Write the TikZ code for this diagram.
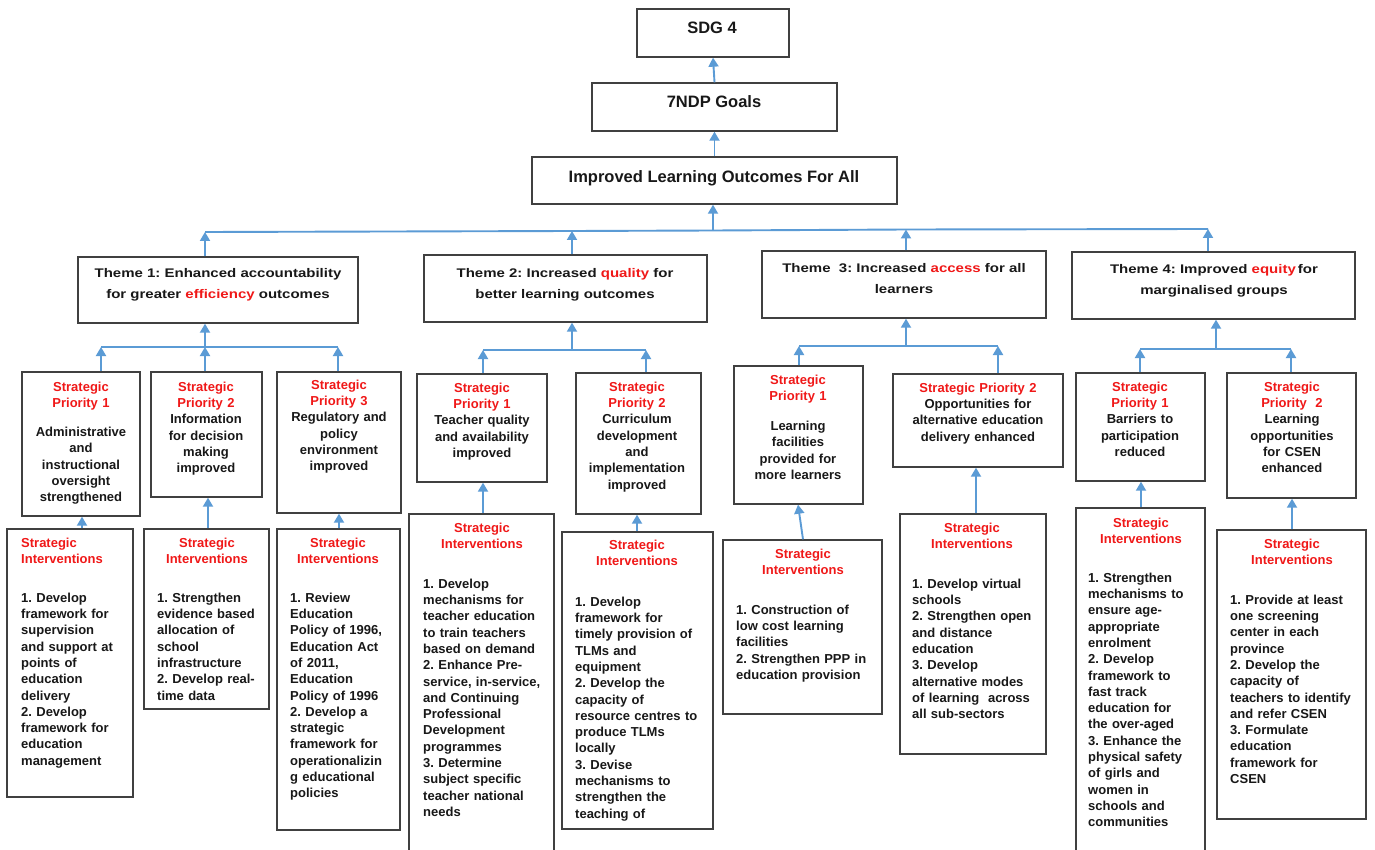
\documentclass[tikz,border=0pt]{standalone}
\usepackage{fontspec}
\setmainfont{Liberation Sans}
\newfontfamily\widesans{Liberation Sans}[FakeStretch=1.2]
\usetikzlibrary{arrows.meta,fit}
\frenchspacing

\definecolor{linkblue}{RGB}{91,155,213}
\definecolor{boxgray}{RGB}{64,64,64}
\definecolor{ink}{RGB}{24,24,24}
\definecolor{srred}{RGB}{240,24,24}

\newcommand\bodyfont{\fontsize{13}{16.3}\selectfont\bfseries}
\newcommand\themefont{\widesans\fontsize{12.5}{21}\selectfont\bfseries}
\newcommand\topfont{\fontsize{16.5}{20}\selectfont\bfseries}
\newcommand\hl[1]{\textcolor{srred}{#1}}

\tikzset{
  box/.style={draw=boxgray, line width=1.4pt, inner sep=0pt},
  link/.style={draw=linkblue, line width=1.9pt},
  conn/.style={link, -{Triangle[width=10pt,length=9pt]}},
  toptext/.style={font=\topfont, text=ink, inner sep=0pt, anchor=base},
  themetext/.style={font=\themefont, text=ink, inner sep=0pt, anchor=north,
    align=center, text width=300pt, yshift=14.7pt, execute at begin node=\strut},
  ctext/.style={font=\bodyfont, text=ink, inner sep=0pt, anchor=north,
    align=center, text width=170pt, yshift=11.41pt, execute at begin node=\strut},
  ltext/.style={font=\bodyfont, text=ink, inner sep=0pt, anchor=north west,
    align=left, text width=150pt, yshift=11.41pt, execute at begin node=\strut},
}

\begin{document}
\begin{tikzpicture}[x=1pt, y=-1pt]
\useasboundingbox (0,0) rectangle (1375,850);
\fill[white] (0,0) rectangle (1375,850);
\clip (0,0) rectangle (1375,850);

% ---- top chain ----
\node[box, fit={(637,9) (789,57)}] (sdg) {};
\node[box, fit={(592,83) (837,131)}] (ndp) {};
\node[box, fit={(532,157) (897,204)}] (ilo) {};
\node[toptext] (sdgt) at (712,34) {SDG 4};
\node[toptext] (ndpt) at (714,108) {7NDP Goals};
\node[toptext] (ilot) at (714,183) {Improved Learning Outcomes For All};

% ---- themes ----
\node[box, fit={(78,257) (358,323)}] (t1) {};
\node[box, fit={(424,255) (707,322)}] (t2) {};
\node[box, fit={(762,251) (1046,318)}] (t3) {};
\node[box, fit={(1072,252) (1355,319)}] (t4) {};
\node[themetext] (t1t) at (218,277) {Theme 1: Enhanced accountability\\ for greater \hl{efficiency} outcomes};
\node[themetext] (t2t) at (565,277) {Theme 2: Increased \hl{quality} for\\ better learning outcomes};
\node[themetext] (t3t) at (904,272) {Theme \ 3: Increased \hl{access} for all\\ learners};
\node[themetext] (t4t) at (1214,273) {Theme 4: Improved \hl{equity}\,for\\ marginalised groups};

% ---- strategic priorities ----
\node[box, fit={(22,372) (140,516)}] (t1p1) {};
\node[box, fit={(151,372) (262,497)}] (t1p2) {};
\node[box, fit={(277,372) (401,513)}] (t1p3) {};
\node[box, fit={(417,374) (547,482)}] (t2p1) {};
\node[box, fit={(576,373) (701,514)}] (t2p2) {};
\node[box, fit={(734,366) (863,504)}] (t3p1) {};
\node[box, fit={(893,374) (1063,467)}] (t3p2) {};
\node[box, fit={(1076,373) (1205,481)}] (t4p1) {};
\node[box, fit={(1227,373) (1356,498)}] (t4p2) {};

\node[ctext] (t1p1t) at (81,391) {{\color{srred}Strategic\\ Priority 1}\\[12.7pt]
  Administrative\\ and\\ instructional\\ oversight\\ strengthened};
\node[ctext] (t1p2t) at (206,391) {{\color{srred}Strategic\\ Priority 2}\\
  Information\\ for decision\\ making\\ improved};
\node[ctext] (t1p3t) at (339,389) {{\color{srred}Strategic\\ Priority 3}\\
  Regulatory and\\ policy\\ environment\\ improved};
\node[ctext] (t2p1t) at (482,392) {{\color{srred}Strategic\\ Priority 1}\\
  Teacher quality\\ and availability\\ improved};
\node[ctext] (t2p2t) at (637,391) {{\color{srred}Strategic\\ Priority 2}\\
  Curriculum\\ development\\ and\\ implementation\\ improved};
\node[ctext] (t3p1t) at (798,384) {{\color{srred}Strategic\\ Priority 1}\\[13.7pt]
  Learning\\ facilities\\ provided for\\ more learners};
\node[ctext] (t3p2t) at (978,392) {{\color{srred}Strategic Priority 2}\\
  Opportunities for\\ alternative education\\ delivery enhanced};
\node[ctext] (t4p1t) at (1140,391) {{\color{srred}Strategic\\ Priority 1}\\
  Barriers to\\ participation\\ reduced};
\node[ctext] (t4p2t) at (1292,391) {{\color{srred}Strategic\\ Priority \ 2}\\
  Learning\\ opportunities\\ for CSEN\\ enhanced};

% ---- strategic interventions ----
\node[box, fit={(7,529) (133,797)}] (t1s1) {};
\node[box, fit={(144,529) (269,709)}] (t1s2) {};
\node[box, fit={(277,529) (400,830)}] (t1s3) {};
\node[box, fit={(409,514) (554,875)}] (t2s1) {};
\node[box, fit={(562,532) (713,829)}] (t2s2) {};
\node[box, fit={(723,540) (882,714)}] (t3s1) {};
\node[box, fit={(900,514) (1046,754)}] (t3s2) {};
\node[box, fit={(1076,508) (1205,875)}] (t4s1) {};
\node[box, fit={(1217,530) (1366,819)}] (t4s2) {};

\node[ltext, text=srred] (t1s1h) at (21,547) {Strategic\\ Interventions};
\node[ctext, text=srred] (t1s2h) at (207,547) {Strategic\\ Interventions};
\node[ctext, text=srred] (t1s3h) at (338,547) {Strategic\\ Interventions};
\node[ctext, text=srred] (t2s1h) at (482,532) {Strategic\\ Interventions};
\node[ctext, text=srred] (t2s2h) at (637,549) {Strategic\\ Interventions};
\node[ctext, text=srred] (t3s1h) at (803,558) {Strategic\\ Interventions};
\node[ctext, text=srred] (t3s2h) at (972,532) {Strategic\\ Interventions};
\node[ctext, text=srred] (t4s1h) at (1141,527) {Strategic\\ Interventions};
\node[ctext, text=srred] (t4s2h) at (1292,548) {Strategic\\ Interventions};

\node[ltext] (t1s1b) at (21,602) {1. Develop\\ framework for\\ supervision\\ and support at\\
  points of\\ education\\ delivery\\ 2. Develop\\ framework for\\ education\\ management};
\node[ltext] (t1s2b) at (157,602) {1. Strengthen\\ evidence based\\ allocation of\\ school\\
  infrastructure\\ 2. Develop real-\\ time data};
\node[ltext] (t1s3b) at (290,602) {1. Review\\ Education\\ Policy of 1996,\\ Education Act\\
  of 2011,\\ Education\\ Policy of 1996\\ 2. Develop a\\ strategic\\ framework for\\
  operationalizin\\ g educational\\ policies};
\node[ltext] (t2s1b) at (423,588) {1. Develop\\ mechanisms for\\ teacher education\\
  to train teachers\\ based on demand\\ 2. Enhance Pre-\\ service, in-service,\\
  and Continuing\\ Professional\\ Development\\ programmes\\ 3. Determine\\
  subject specific\\ teacher national\\ needs};
\node[ltext] (t2s2b) at (575,606) {1. Develop\\ framework for\\ timely provision of\\
  TLMs and\\ equipment\\ 2. Develop the\\ capacity of\\ resource centres to\\
  produce TLMs\\ locally\\ 3. Devise\\ mechanisms to\\ strengthen the\\ teaching of};
\node[ltext] (t3s1b) at (736,614) {1. Construction of\\ low cost learning\\ facilities\\
  2. Strengthen PPP in\\ education provision};
\node[ltext] (t3s2b) at (912,588) {1. Develop virtual\\ schools\\ 2. Strengthen open\\
  and distance\\ education\\ 3. Develop\\ alternative modes\\ of learning \ across\\
  all sub-sectors};
\node[ltext] (t4s1b) at (1088,582) {1. Strengthen\\ mechanisms to\\ ensure age-\\
  appropriate\\ enrolment\\ 2. Develop\\ framework to\\ fast track\\ education for\\
  the over-aged\\ 3. Enhance the\\ physical safety\\ of girls and\\ women in\\
  schools and\\ communities};
\node[ltext] (t4s2b) at (1230,604) {1. Provide at least\\ one screening\\ center in each\\
  province\\ 2. Develop the\\ capacity of\\ teachers to identify\\ and refer CSEN\\
  3. Formulate\\ education\\ framework for\\ CSEN};

% ---- connectors: top chain ----
\draw[conn] (ilo.north) -- (ndp.south);
\draw[conn] (ndp.north) -- (sdg.south);

% main bus under the outcome box
\coordinate (busA) at (205,232);
\coordinate (busB) at (572,231);
\coordinate (busC) at (713,230.5);
\coordinate (busD) at (906,229.5);
\coordinate (busE) at (1208,229);
\draw[link] (busA) -- (busB) -- (busC) -- (busD) -- (busE);
\draw[conn] (busC) -- (ilo.south -| busC);
\draw[conn] (t1.north -| busA) -- (busA);
\draw[conn] (t2.north -| busB) -- (busB);
\draw[conn] (t3.north -| busD) -- (busD);
\draw[conn] (t4.north -| busE) -- (busE);

% theme buses
\coordinate (s1a) at (101,347);
\coordinate (s1b) at (205,347);
\coordinate (s1c) at (338,347);
\draw[link] (s1a) -- (s1c);
\draw[conn] (s1b) -- (t1.south -| s1b);
\draw[conn] (t1p1.north -| s1a) -- (s1a);
\draw[conn] (t1p2.north -| s1b) -- (s1b);
\draw[conn] (t1p3.north -| s1c) -- (s1c);

\coordinate (s2a) at (483,350);
\coordinate (s2b) at (572,350);
\coordinate (s2c) at (646,350);
\draw[link] (s2a) -- (s2c);
\draw[conn] (s2b) -- (t2.south -| s2b);
\draw[conn] (t2p1.north -| s2a) -- (s2a);
\draw[conn] (t2p2.north -| s2c) -- (s2c);

\coordinate (s3a) at (799,346);
\coordinate (s3b) at (906,346);
\coordinate (s3c) at (998,346);
\draw[link] (s3a) -- (s3c);
\draw[conn] (s3b) -- (t3.south -| s3b);
\draw[conn] (t3p1.north -| s3a) -- (s3a);
\draw[conn] (t3p2.north -| s3c) -- (s3c);

\coordinate (s4a) at (1140,349);
\coordinate (s4b) at (1216,349);
\coordinate (s4c) at (1291,349);
\draw[link] (s4a) -- (s4c);
\draw[conn] (s4b) -- (t4.south -| s4b);
\draw[conn] (t4p1.north -| s4a) -- (s4a);
\draw[conn] (t4p2.north -| s4c) -- (s4c);

% interventions feeding priorities
\coordinate (k11) at (82,0);
\coordinate (k12) at (208,0);
\coordinate (k13) at (339,0);
\coordinate (k21) at (483,0);
\coordinate (k22) at (637,0);
\coordinate (k31a) at (803,0);
\coordinate (k31b) at (798,0);
\coordinate (k32) at (976,0);
\coordinate (k41) at (1141,0);
\coordinate (k42) at (1292,0);
\draw[conn] (t1s1.north -| k11) -- (t1p1.south -| k11);
\draw[conn] (t1s2.north -| k12) -- (t1p2.south -| k12);
\draw[conn] (t1s3.north -| k13) -- (t1p3.south -| k13);
\draw[conn] (t2s1.north -| k21) -- (t2p1.south -| k21);
\draw[conn] (t2s2.north -| k22) -- (t2p2.south -| k22);
\draw[conn] (t3s1.north -| k31a) -- (t3p1.south -| k31b);
\draw[conn] (t3s2.north -| k32) -- (t3p2.south -| k32);
\draw[conn] (t4s1.north -| k41) -- (t4p1.south -| k41);
\draw[conn] (t4s2.north -| k42) -- (t4p2.south -| k42);
\end{tikzpicture}
\end{document}
